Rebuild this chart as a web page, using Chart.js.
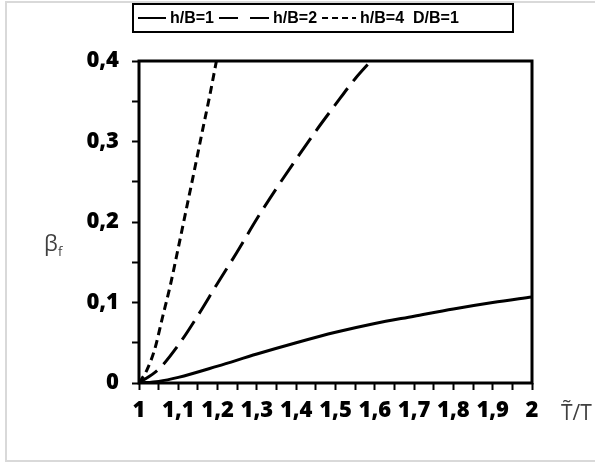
<!DOCTYPE html>
<html>
<head>
<meta charset="utf-8">
<script src="https://cdn.jsdelivr.net/npm/chart.js@4/dist/chart.umd.min.js"></script>
<style>
  html, body { margin: 0; padding: 0; background: #fff; }
  canvas { display: block; }
</style>
</head>
<body>
<canvas id="chart" width="595" height="465"></canvas>
<script>
// curve values (x = T~/T, y = beta_f)
const x1 = [1, 1.05, 1.1, 1.2, 1.3, 1.4, 1.5, 1.6, 1.7, 1.8, 1.9, 2.0];
const y1 = [0, 0.002, 0.007, 0.021, 0.036, 0.05, 0.063, 0.074, 0.083, 0.092, 0.1, 0.107];

const x2 = [1, 1.05, 1.1, 1.15, 1.2, 1.25, 1.3, 1.35, 1.4, 1.45, 1.5, 1.55, 1.59];
const y2 = [0, 0.017, 0.047, 0.084, 0.124, 0.163, 0.204, 0.242, 0.278, 0.313, 0.346, 0.378, 0.4];

const x4 = [1, 1.02, 1.04, 1.06, 1.08, 1.1, 1.12, 1.14, 1.16, 1.18, 1.197];
const y4 = [0, 0.016, 0.042, 0.082, 0.122, 0.168, 0.215, 0.262, 0.31, 0.357, 0.4];

const seriesLabels = ['h/B=1', 'h/B=2', 'h/B=4'];
const legendNote = 'D/B=1';
const xTitle = 'T\u0303/T';
const yTitle = ['\u03B2', 'f'];

const xMin = 1, xMax = 2, yMin = 0, yMax = 0.4;

const pts = (xs, ys) => xs.map((x, i) => ({ x, y: ys[i] }));
const fmt = (v) => {
  const r = Math.round(v * 100) / 100;
  // only every other tick (0.1 steps) carries a label
  if (Math.abs(Math.round(r * 10) - r * 10) > 1e-6) return '';
  return String(Math.round(r * 10) / 10).replace('.', ',');
};

const frame = {
  id: 'frame',
  beforeDraw(chart) {
    const { ctx } = chart;
    ctx.save();
    ctx.strokeStyle = '#d9d9d9';
    ctx.lineWidth = 2;
    ctx.strokeRect(6, 2, 620, 459);
    ctx.restore();
  },
  afterDraw(chart) {
    const { ctx, chartArea: a } = chart;
    ctx.save();
    ctx.strokeStyle = '#000';
    ctx.lineWidth = 3;
    ctx.strokeRect(a.left, a.top, a.right - a.left, a.bottom - a.top);

    // axis titles
    ctx.fillStyle = '#404040';
    ctx.textBaseline = 'alphabetic';
    ctx.font = '22px "Open Sans"';
    ctx.fillText(yTitle[0], 44, 251);
    ctx.font = '13px "Open Sans"';
    ctx.fillText(yTitle[1], 58, 256);
    ctx.font = '21px "Open Sans"';
    ctx.fillText(xTitle, 561, 420);

    // boxed legend
    ctx.strokeStyle = '#000';
    ctx.lineWidth = 2;
    ctx.strokeRect(133, 4, 380, 28);
    ctx.font = 'bold 16px "Liberation Sans"';
    ctx.fillStyle = '#000';
    ctx.textBaseline = 'middle';
    const lineLen = [28, 50, 34];
    const legendDash = [[], [19, 12], [6, 4]];
    let x = 138;
    chart.data.datasets.forEach((ds, i) => {
      ctx.setLineDash(legendDash[i]);
      ctx.lineWidth = 2;
      ctx.beginPath();
      ctx.moveTo(x, 18);
      ctx.lineTo(x + lineLen[i], 18);
      ctx.stroke();
      ctx.setLineDash([]);
      x += lineLen[i] + 4;
      ctx.fillText(ds.label, x, 18.5);
      x += ctx.measureText(ds.label).width + 5;
    });
    ctx.fillText(legendNote, x + 4, 18.5);
    ctx.restore();
  },
};

const tickGrid = {
  drawOnChartArea: false,
  drawTicks: true,
  tickLength: 7,
  tickWidth: 2,
  tickColor: '#000',
  color: '#000',
};

const tickFont = { family: '"Open Sans"', weight: '800', size: 22 };

new Chart(document.getElementById('chart'), {
  type: 'line',
  data: {
    datasets: [
      { label: seriesLabels[0], data: pts(x1, y1), borderDash: [] },
      { label: seriesLabels[1], data: pts(x2, y2), borderDash: [22, 9] },
      { label: seriesLabels[2], data: pts(x4, y4), borderDash: [8, 5] },
    ],
  },
  options: {
    responsive: false,
    animation: false,
    layout: { padding: { left: 0, top: 61, right: 63, bottom: 0 } },
    elements: {
      point: { radius: 0 },
      line: { borderColor: '#000', borderWidth: 3, cubicInterpolationMode: 'monotone', fill: false },
    },
    plugins: {
      legend: { display: false },
      tooltip: { enabled: false },
    },
    scales: {
      x: {
        type: 'linear',
        min: xMin,
        max: xMax,
        afterFit: (s) => { s.height = 82; },
        border: { display: false },
        grid: tickGrid,
        ticks: {
          stepSize: 0.05,
          autoSkip: false,
          maxRotation: 0,
          padding: 8,
          color: '#000',
          font: tickFont,
          callback: (v) => fmt(v),
        },
      },
      y: {
        min: yMin,
        max: yMax,
        afterFit: (s) => { s.width = 139; },
        border: { display: false },
        grid: tickGrid,
        ticks: {
          stepSize: 0.05,
          autoSkip: false,
          padding: 13,
          color: '#000',
          font: tickFont,
          callback: (v) => fmt(v),
        },
      },
    },
  },
  plugins: [frame],
});
</script>
</body>
</html>
